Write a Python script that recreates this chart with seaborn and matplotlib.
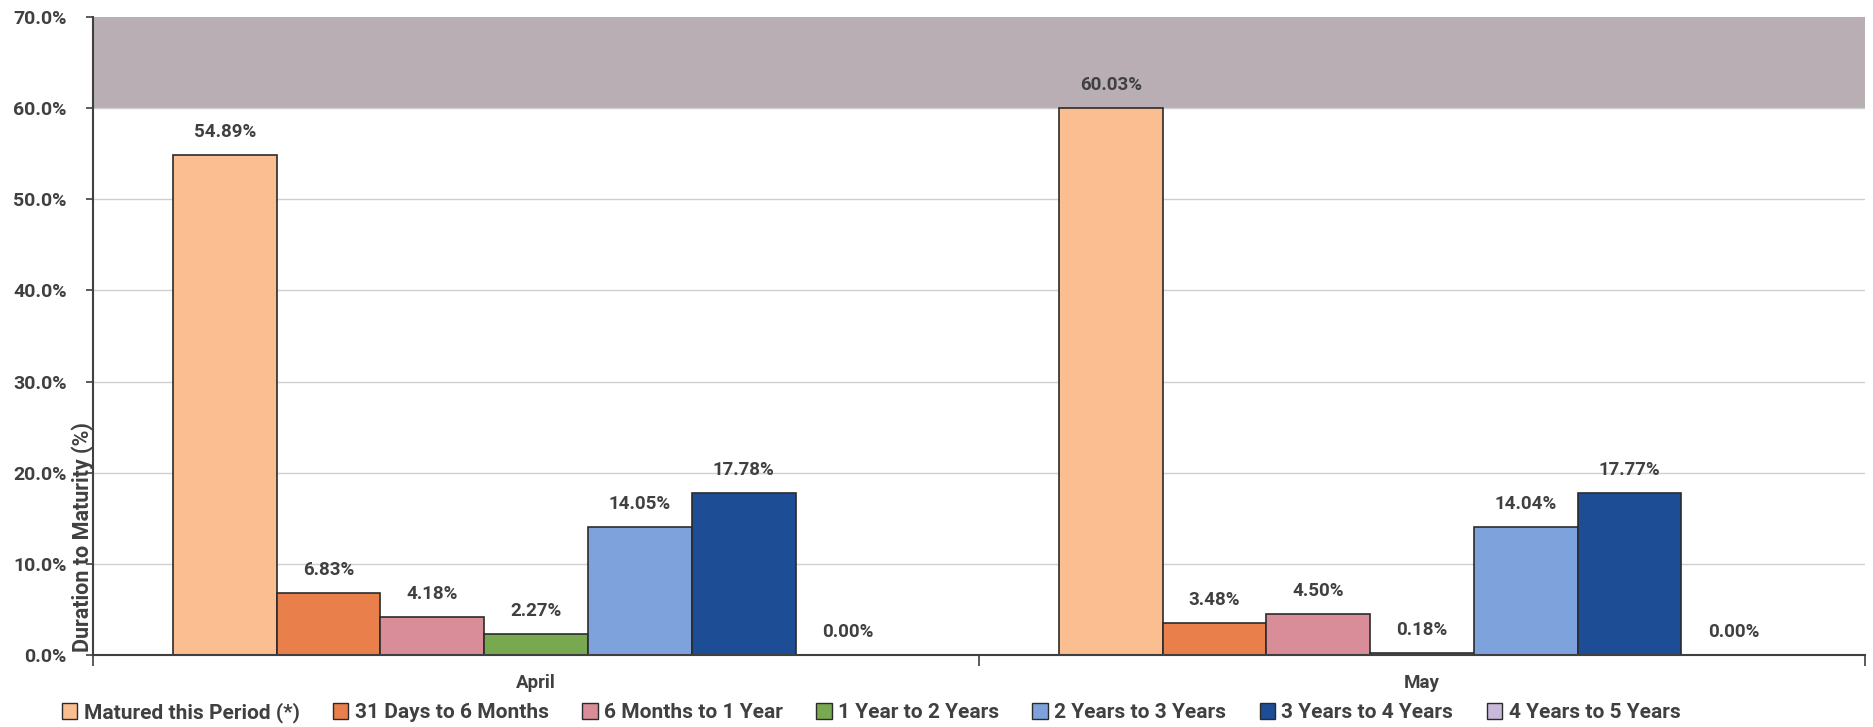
import matplotlib
matplotlib.use("Agg")
import matplotlib.pyplot as plt
import seaborn as sns
import pandas as pd
from matplotlib.patches import Patch
from matplotlib.ticker import FuncFormatter, FixedLocator

months = ["April", "May"]
buckets = ["Matured this Period (*)", "31 Days to 6 Months", "6 Months to 1 Year",
           "1 Year to 2 Years", "2 Years to 3 Years", "3 Years to 4 Years",
           "4 Years to 5 Years"]
april_vals = [54.89, 6.83, 4.18, 2.27, 14.05, 17.78, 0.00]
may_vals = [60.03, 3.48, 4.50, 0.18, 14.04, 17.77, 0.00]
colors = ["#FBBE91", "#E9804C", "#D88D98", "#78A84F", "#7EA3DC", "#1D4D95", "#C8B8DA"]

rows = []
for m, vals in zip(months, [april_vals, may_vals]):
    for b, v in zip(buckets, vals):
        rows.append({"Month": m, "Bucket": b, "Value": v})
df = pd.DataFrame(rows)

sns.set_theme(style="white")
plt.rcParams["font.family"] = ["Roboto", "DejaVu Sans"]
plt.rcParams["font.weight"] = "bold"

TXT = "#404040"
fig = plt.figure(figsize=(18.73, 7.27), dpi=100)
ax = fig.add_axes([0.0497, 0.099, 0.946, 0.8776])

ax.axhspan(60, 70, color="#B8AEB4", zorder=0, lw=0)
for y in range(10, 70, 10):
    ax.axhline(y, color="#D0D0D0", lw=1, zorder=0.5)

sns.barplot(data=df, x="Month", y="Value", hue="Bucket", order=months,
            hue_order=buckets, palette=colors, width=0.82, saturation=1,
            edgecolor="#2b2b2b", linewidth=1.2, ax=ax, legend=False, zorder=2)

for cont in ax.containers:
    ax.bar_label(cont, labels=[f"{v:.2f}%" for v in cont.datavalues],
                 padding=10, fontsize=13.5, fontweight="bold", color=TXT)

ax.set_ylim(0, 70)
ax.set_xlim(-0.5, 1.5)
ax.set_yticks(range(0, 71, 10))
ax.yaxis.set_major_formatter(FuncFormatter(lambda v, p: f"{v:.1f}%"))
ax.tick_params(axis="y", labelsize=14, colors=TXT, length=5, width=1.2,
               left=True, direction="out", pad=14)
ax.tick_params(axis="x", labelsize=13.5, colors=TXT, length=0, pad=14)
ax.xaxis.set_minor_locator(FixedLocator([-0.5, 0.5, 1.5]))
ax.tick_params(axis="x", which="minor", length=8, width=1.2, color=TXT,
               bottom=True, direction="out")
for lbl in ax.get_xticklabels() + ax.get_yticklabels():
    lbl.set_fontweight("bold")
ax.set_xlabel("")
ax.set_ylabel("")
ax.text(-0.006, 0.005, "Duration to Maturity (%)", transform=ax.transAxes,
        rotation=90, ha="center", va="bottom", fontsize=15.5,
        fontweight="bold", color=TXT)

for s in ["top", "right"]:
    ax.spines[s].set_visible(False)
ax.spines["left"].set_color(TXT)
ax.spines["left"].set_linewidth(1.5)
ax.spines["bottom"].set_color(TXT)
ax.spines["bottom"].set_linewidth(1.5)

handles = [Patch(facecolor=c, edgecolor="#2b2b2b", linewidth=1, label=b)
           for c, b in zip(colors, buckets)]
leg = fig.legend(handles=handles, loc="center", bbox_to_anchor=(0.465, 0.02),
                 ncol=7, frameon=False, handlelength=0.75,
                 handleheight=0.75, handletextpad=0.3, columnspacing=1.6,
                 prop={"weight": "bold", "size": 15})
for t in leg.get_texts():
    t.set_color(TXT)

fig.savefig("out.png", dpi=100)
